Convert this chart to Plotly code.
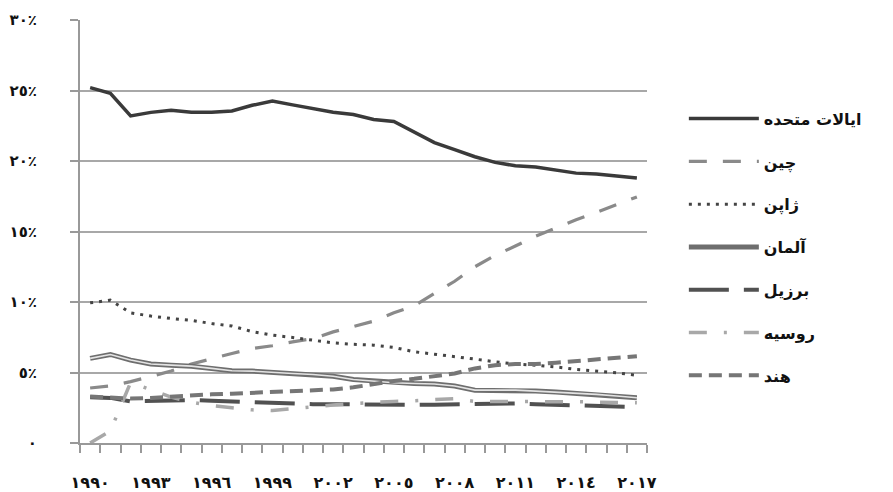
import plotly.graph_objects as go

years = list(range(1990, 2018))

usa = [25.2, 24.8, 23.2, 23.45, 23.6, 23.45, 23.45, 23.55, 23.95, 24.25, 23.98, 23.7,
       23.46, 23.3, 22.95, 22.8, 22.05, 21.3, 20.8, 20.3, 19.9, 19.66, 19.57, 19.33,
       19.14, 19.07, 18.93, 18.8]
china = [3.9, 4.05, 4.35, 4.7, 5.1, 5.6, 6.0, 6.35, 6.7, 6.9, 7.17, 7.4, 7.88, 8.24,
         8.64, 9.23, 9.73, 10.6, 11.47, 12.5, 13.3, 13.97, 14.66, 15.25, 15.84, 16.36,
         16.93, 17.45]
japan = [9.94, 10.13, 9.23, 9.0, 8.83, 8.7, 8.47, 8.3, 7.9, 7.65, 7.48, 7.3, 7.1, 7.0,
         6.94, 6.78, 6.47, 6.3, 6.1, 5.95, 5.76, 5.6, 5.52, 5.4, 5.22, 5.12, 4.98, 4.8]
germany = [6.0, 6.28, 5.88, 5.6, 5.52, 5.45, 5.29, 5.12, 5.1, 5.0, 4.93, 4.86, 4.74,
           4.5, 4.39, 4.27, 4.22, 4.18, 4.04, 3.75, 3.75, 3.75, 3.68, 3.61, 3.52, 3.45,
           3.33, 3.21]
brazil = [3.25, 3.2, 2.95, 3.0, 3.05, 3.05, 3.0, 2.95, 2.85, 2.8, 2.8, 2.75, 2.75, 2.72,
          2.72, 2.7, 2.7, 2.72, 2.75, 2.75, 2.8, 2.8, 2.75, 2.72, 2.7, 2.62, 2.57, 2.55]
russia = [0.0, 0.85, 4.3, 3.75, 3.25, 2.9, 2.65, 2.5, 2.35, 2.3, 2.45, 2.6, 2.7, 2.8,
          2.9, 2.95, 3.0, 3.1, 3.15, 2.95, 2.93, 2.95, 2.95, 2.93, 2.93, 2.9, 2.88, 2.85]
india = [3.3, 3.2, 3.15, 3.2, 3.3, 3.4, 3.45, 3.5, 3.55, 3.6, 3.65, 3.72, 3.8, 3.95,
         4.2, 4.4, 4.55, 4.72, 4.93, 5.29, 5.52, 5.6, 5.6, 5.69, 5.8, 5.92, 6.04, 6.16]

names = ["ایالات متحده", "چین", "ژاپن", "آلمان", "برزیل", "روسیه", "هند"]

x_tickvals = [1990, 1993, 1996, 1999, 2002, 2005, 2008, 2011, 2014, 2017]
x_ticktext = ["۱۹۹۰", "۱۹۹۳", "۱۹۹٦", "۱۹۹۹", "۲۰۰۲", "۲۰۰٥", "۲۰۰۸", "۲۰۱۱", "۲۰۱٤", "۲۰۱۷"]
y_tickvals = [0, 5, 10, 15, 20, 25, 30]
y_ticktext = ["۰", "٥٪", "۱۰٪", "۱٥٪", "۲۰٪", "۲٥٪", "۳۰٪"]

fig = go.Figure()

def add(y, name, color, width, dash, group, show=True):
    fig.add_trace(go.Scatter(
        x=years, y=y, mode="lines", name=name, legendgroup=group,
        showlegend=show, line=dict(color=color, width=width, dash=dash),
        hoverinfo="skip"))

add(usa, names[0], "#3a3a3a", 3.5, "solid", "g0")
add(china, names[1], "#8a8a8a", 3.2, "18px,16px", "g1")
add(japan, names[2], "#444444", 3, "3px,6px", "g2")
add(germany, names[3], "#6e6e6e", 5, "solid", "g3")
add(germany, names[3], "#e4e4e4", 1.6, "solid", "g3", show=False)
add(brazil, names[4], "#515151", 4, "40px,15px", "g4")
add(russia, names[5], "#a8a8a8", 3.5, "18px,17px,3px,17px", "g5")
add(india, names[6], "#767676", 4, "13px,7px", "g6")

font_y = dict(family="DejaVu Sans", size=15, color="#111111", weight="bold")
font_x = dict(family="DejaVu Sans", size=16, color="#111111", weight="bold")

fig.update_layout(
    width=893, height=492,
    margin=dict(l=80, r=246, t=20, b=49, autoexpand=False),
    paper_bgcolor="white", plot_bgcolor="white",
    showlegend=True,
    legend=dict(x=1.065, y=0.807, xanchor="left", yanchor="top",
                font=dict(family="DejaVu Sans", size=16, color="#111111", weight="bold"),
                tracegroupgap=19, itemwidth=70, bgcolor="rgba(0,0,0,0)"),
    xaxis=dict(range=[1989.5, 2017.5], tickmode="array", tickvals=x_tickvals,
               ticktext=x_ticktext, ticks="", showgrid=False, zeroline=False,
               showline=True, linecolor="#999999", linewidth=2, automargin=False,
               ticklabelstandoff=24, tickfont=font_x,
               minor=dict(tick0=1989.5, dtick=1, ticks="outside", ticklen=8,
                          tickcolor="#999999", tickwidth=1.5, showgrid=False)),
    yaxis=dict(range=[0, 30], tickmode="array", tickvals=y_tickvals,
               ticktext=y_ticktext, ticks="outside", ticklen=8, tickcolor="#999999",
               tickwidth=1.5, showgrid=True, gridcolor="#a8a8a8", gridwidth=1.5,
               zeroline=False, showline=True, linecolor="#999999", linewidth=2,
               automargin=False, ticklabelstandoff=30, tickfont=font_y),
)

fig.write_html("out.html", config={"displayModeBar": False},
               post_script="document.body.style.margin='0';")
